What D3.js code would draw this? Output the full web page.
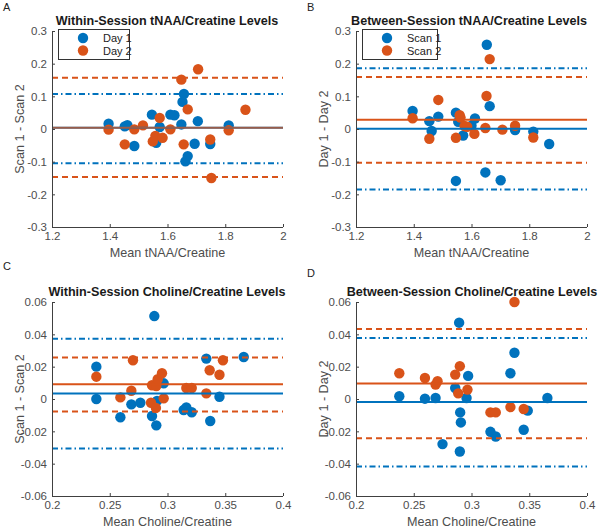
<!DOCTYPE html>
<html><head><meta charset="utf-8">
<script src="https://cdn.jsdelivr.net/npm/d3@7"></script>
<style>body{margin:0;background:#fff;} svg{display:block;font-family:"Liberation Sans",Arial,Helvetica,sans-serif;}</style>
</head><body>
<svg id="chart" width="600" height="532"></svg>
<script>
// ---------- DATA ----------
// Panel A: Within-Session tNAA/Creatine (Scan1 - Scan2)
const aDay1X = [1.396,1.452,1.461,1.485,1.546,1.561,1.573,1.610,1.624,1.648,1.652,1.657,1.670,1.662,1.694,1.705,1.748,1.812];
const aDay1Y = [0.016,0.008,0.012,-0.052,0.044,-0.042,0.006,0.044,0.042,0.014,0.083,0.107,-0.083,-0.099,-0.045,0.024,-0.046,0.011];
const aDay2X = [1.396,1.452,1.485,1.515,1.549,1.558,1.573,1.583,1.610,1.648,1.656,1.670,1.706,1.748,1.752,1.812,1.870];
const aDay2Y = [-0.002,-0.047,-0.001,0.011,-0.038,-0.021,0.034,-0.027,-0.001,0.151,-0.047,0.060,0.183,-0.032,-0.150,-0.004,0.059];
const aStats = { blue:{mean:0.004, upper:0.107, lower:-0.105}, orange:{mean:0.004, upper:0.157, lower:-0.147} };

// Panel B: Between-Session tNAA/Creatine (Day1 - Day2)
const bScan1X = [1.396,1.454,1.462,1.485,1.546,1.554,1.571,1.600,1.612,1.653,1.663,1.648,1.546,1.701,1.751,1.814,1.869];
const bScan1Y = [0.055,0.024,-0.006,0.038,0.050,0.022,-0.020,0.010,0.032,0.258,0.070,-0.133,-0.159,-0.157,-0.003,-0.008,-0.046];
const bScan2X = [1.396,1.454,1.485,1.546,1.559,1.562,1.576,1.585,1.610,1.648,1.652,1.663,1.707,1.751,1.814];
const bScan2Y = [0.033,-0.030,0.089,-0.027,0.042,0.035,0.009,0.007,-0.015,0.003,0.101,0.214,-0.002,0.010,-0.026];
const bStats = { blue:{mean:0.001, upper:0.186, lower:-0.185}, orange:{mean:0.028, upper:0.159, lower:-0.103} };

// Panel C: Within-Session Choline/Creatine (Scan1 - Scan2)
const cDay1X = [0.2384,0.2384,0.2592,0.2687,0.2765,0.2866,0.2886,0.2903,0.2909,0.2967,0.3140,0.3163,0.3210,0.3336,0.3370,0.3450,0.3660];
const cDay1Y = [0.0200,0.0000,-0.0113,-0.0033,-0.0023,-0.0105,0.0513,-0.0163,-0.0012,0.0097,-0.0068,-0.0052,-0.0082,0.0250,-0.0136,0.0014,0.0260];
const cDay2X = [0.2384,0.2592,0.2687,0.2701,0.2857,0.2866,0.2903,0.2915,0.2952,0.2900,0.2967,0.3163,0.3210,0.3336,0.3365,0.3450,0.3480];
const cDay2Y = [0.0138,0.0010,0.0051,0.0240,-0.0023,0.0085,0.0080,0.0122,0.0159,-0.0055,0.0004,0.0068,0.0068,0.0035,0.0178,0.0150,0.0240];
const cStats = { blue:{mean:0.0034, upper:0.0373, lower:-0.0306}, orange:{mean:0.0091, upper:0.0256, lower:-0.0077} };

// Panel D: Between-Session Choline/Creatine (Day1 - Day2)
const dScan1X = [0.2375,0.2597,0.2689,0.2749,0.2859,0.2893,0.2902,0.2908,0.2899,0.2957,0.2971,0.3164,0.3210,0.3337,0.3372,0.3487,0.3452,0.3657];
const dScan1Y = [0.0017,0.0002,0.0006,-0.0279,0.0068,0.0472,-0.0083,-0.0145,-0.0325,0.0006,0.0143,-0.0203,-0.0232,0.0159,0.0286,-0.0072,-0.0190,0.0006];
const dScan2X = [0.2375,0.2597,0.2689,0.2706,0.2859,0.2899,0.2885,0.2965,0.3164,0.3210,0.3337,0.3372,0.3452];
const dScan2Y = [0.0159,0.0130,0.0089,0.0110,0.0151,0.0203,0.0035,0.0058,-0.0083,-0.0083,-0.0050,0.0600,-0.0062];
const dStats = { blue:{mean:-0.0019, upper:0.0377, lower:-0.0417}, orange:{mean:0.0096, upper:0.0433, lower:-0.0243} };

// Ticks
const tnaaXTicks = [1.2,1.4,1.6,1.8,2];
const tnaaXLabels = ["1.2","1.4","1.6","1.8","2"];
const tnaaYTicks = [-0.3,-0.2,-0.1,0,0.1,0.2,0.3];
const tnaaYLabels = ["-0.3","-0.2","-0.1","0","0.1","0.2","0.3"];
const choXTicks = [0.2,0.25,0.3,0.35,0.4];
const choXLabels = ["0.2","0.25","0.3","0.35","0.4"];
const choYTicks = [-0.06,-0.04,-0.02,0,0.02,0.04,0.06];
const choYLabels = ["-0.06","-0.04","-0.02","0","0.02","0.04","0.06"];

const titles = ["Within-Session tNAA/Creatine Levels","Between-Session tNAA/Creatine Levels","Within-Session Choline/Creatine Levels","Between-Session Choline/Creatine Levels"];
const xLabels = ["Mean tNAA/Creatine","Mean tNAA/Creatine","Mean Choline/Creatine","Mean Choline/Creatine"];
const yLabels = ["Scan 1 - Scan 2","Day 1 - Day 2","Scan 1 - Scan 2","Day 1 - Day 2"];
const panelLetters = ["A","B","C","D"];
const legendNames = [["Day 1","Day 2"],["Scan 1","Scan 2"],null,null];

// ---------- DRAW ----------
const BLUE = "#0072BD", ORANGE = "#D95319";
const svg = d3.select("#chart");

const panels = [
  {l:52, r:283, t:31, b:227, xd:[1.2,2], yd:[-0.3,0.3], xt:tnaaXTicks, xl:tnaaXLabels, yt:tnaaYTicks, yl:tnaaYLabels,
   s1:[aDay1X,aDay1Y], s2:[aDay2X,aDay2Y], st:aStats, letter:[3,11], tc:167},
  {l:356, r:587, t:31, b:227, xd:[1.2,2], yd:[-0.3,0.3], xt:tnaaXTicks, xl:tnaaXLabels, yt:tnaaYTicks, yl:tnaaYLabels,
   s1:[bScan1X,bScan1Y], s2:[bScan2X,bScan2Y], st:bStats, letter:[307,11], tc:469},
  {l:52, r:283, t:302, b:496, xd:[0.2,0.4], yd:[-0.06,0.06], xt:choXTicks, xl:choXLabels, yt:choYTicks, yl:choYLabels,
   s1:[cDay1X,cDay1Y], s2:[cDay2X,cDay2Y], st:cStats, letter:[3,270], tc:167},
  {l:356, r:587, t:302, b:496, xd:[0.2,0.4], yd:[-0.06,0.06], xt:choXTicks, xl:choXLabels, yt:choYTicks, yl:choYLabels,
   s1:[dScan1X,dScan1Y], s2:[dScan2X,dScan2Y], st:dStats, letter:[307,277], tc:472}
];

panels.forEach((p,i)=>{
  const x = d3.scaleLinear().domain(p.xd).range([p.l,p.r]);
  const y = d3.scaleLinear().domain(p.yd).range([p.b,p.t]);
  const g = svg.append("g");

  // points
  const pts1 = p.s1[0].map((v,k)=>[v,p.s1[1][k]]);
  const pts2 = p.s2[0].map((v,k)=>[v,p.s2[1][k]]);
  g.selectAll("circle.s1").data(pts1).enter().append("circle")
    .attr("cx",d=>x(d[0])).attr("cy",d=>y(d[1])).attr("r",5.2).attr("fill",BLUE);
  g.selectAll("circle.s2").data(pts2).enter().append("circle")
    .attr("cx",d=>x(d[0])).attr("cy",d=>y(d[1])).attr("r",5.2).attr("fill",ORANGE);

  // reference lines
  const hline = (val,color,dash,op)=>{
    g.append("line").attr("x1",x(p.xd[0])).attr("x2",x(p.xd[1]))
      .attr("y1",y(val)).attr("y2",y(val)).attr("stroke",color).attr("stroke-width",2)
      .attr("stroke-dasharray",dash).attr("opacity",op);
  };
  hline(p.st.blue.upper,BLUE,"6,3,1.5,3",1);
  hline(p.st.blue.lower,BLUE,"6,3,1.5,3",1);
  hline(p.st.orange.upper,ORANGE,"6,4",1);
  hline(p.st.orange.lower,ORANGE,"6,4",1);
  hline(p.st.blue.mean,BLUE,null,1);
  hline(p.st.orange.mean,ORANGE,null,i===0?0.7:1);

  // axes
  const axCol = "#404040";
  const xa = d3.axisBottom(x).tickValues(p.xt).tickFormat((d,k)=>p.xl[k]).tickSizeInner(-3).tickSizeOuter(0).tickPadding(5);
  const ya = d3.axisLeft(y).tickValues(p.yt).tickFormat((d,k)=>p.yl[k]).tickSizeInner(-3).tickSizeOuter(0).tickPadding(5);
  const gx = g.append("g").attr("transform",`translate(0,${p.b})`).call(xa);
  const gy = g.append("g").attr("transform",`translate(${p.l},0)`).call(ya);
  [gx,gy].forEach(a=>{
    a.select(".domain").attr("stroke",axCol).attr("stroke-width",1);
    a.selectAll(".tick line").attr("stroke",axCol);
    a.selectAll(".tick text").attr("fill","#4d4d4d").style("font-size","11.5px").style("font-family",'"Liberation Sans",Arial,sans-serif');
  });
  gx.select(".domain").attr("d",`M${p.l},0.5H${p.r}`);
  gy.select(".domain").attr("d",`M0.5,${p.t}V${p.b}`);

  // title
  g.append("text").attr("x",p.tc).attr("y",p.t-6).attr("text-anchor","middle")
    .attr("font-weight","bold").attr("font-size","12.6px").attr("fill","#1a1a1a").text(titles[i]);
  // x label
  g.append("text").attr("x",(p.l+p.r)/2).attr("y",p.b+30).attr("text-anchor","middle")
    .attr("font-size","12.6px").attr("fill","#4d4d4d").text(xLabels[i]);
  // y label
  g.append("text").attr("transform",`translate(${p.l-28},${(p.t+p.b)/2}) rotate(-90)`).attr("text-anchor","middle")
    .attr("font-size","12.6px").attr("fill","#4d4d4d").text(yLabels[i]);
  // letter
  g.append("text").attr("x",p.letter[0]).attr("y",p.letter[1]).attr("font-size","11px").attr("fill","#222").text(panelLetters[i]);

  // legend
  if(legendNames[i]){
    const lx = p.l+6, ly = p.t-2, lw = i===0?71:75, lh = 30;
    const lg = g.append("g");
    lg.append("rect").attr("x",lx+0.5).attr("y",ly+0.5).attr("width",lw).attr("height",lh)
      .attr("fill","#fff").attr("stroke","#333").attr("stroke-width",1);
    [BLUE,ORANGE].forEach((c,k)=>{
      lg.append("circle").attr("cx",lx+25).attr("cy",ly+9+k*12.5).attr("r",5.2).attr("fill",c);
      lg.append("text").attr("x",lx+45).attr("y",ly+13+k*12.5).attr("font-size","11px").attr("fill","#222").text(legendNames[i][k]);
    });
  }
});
</script>
</body></html>
